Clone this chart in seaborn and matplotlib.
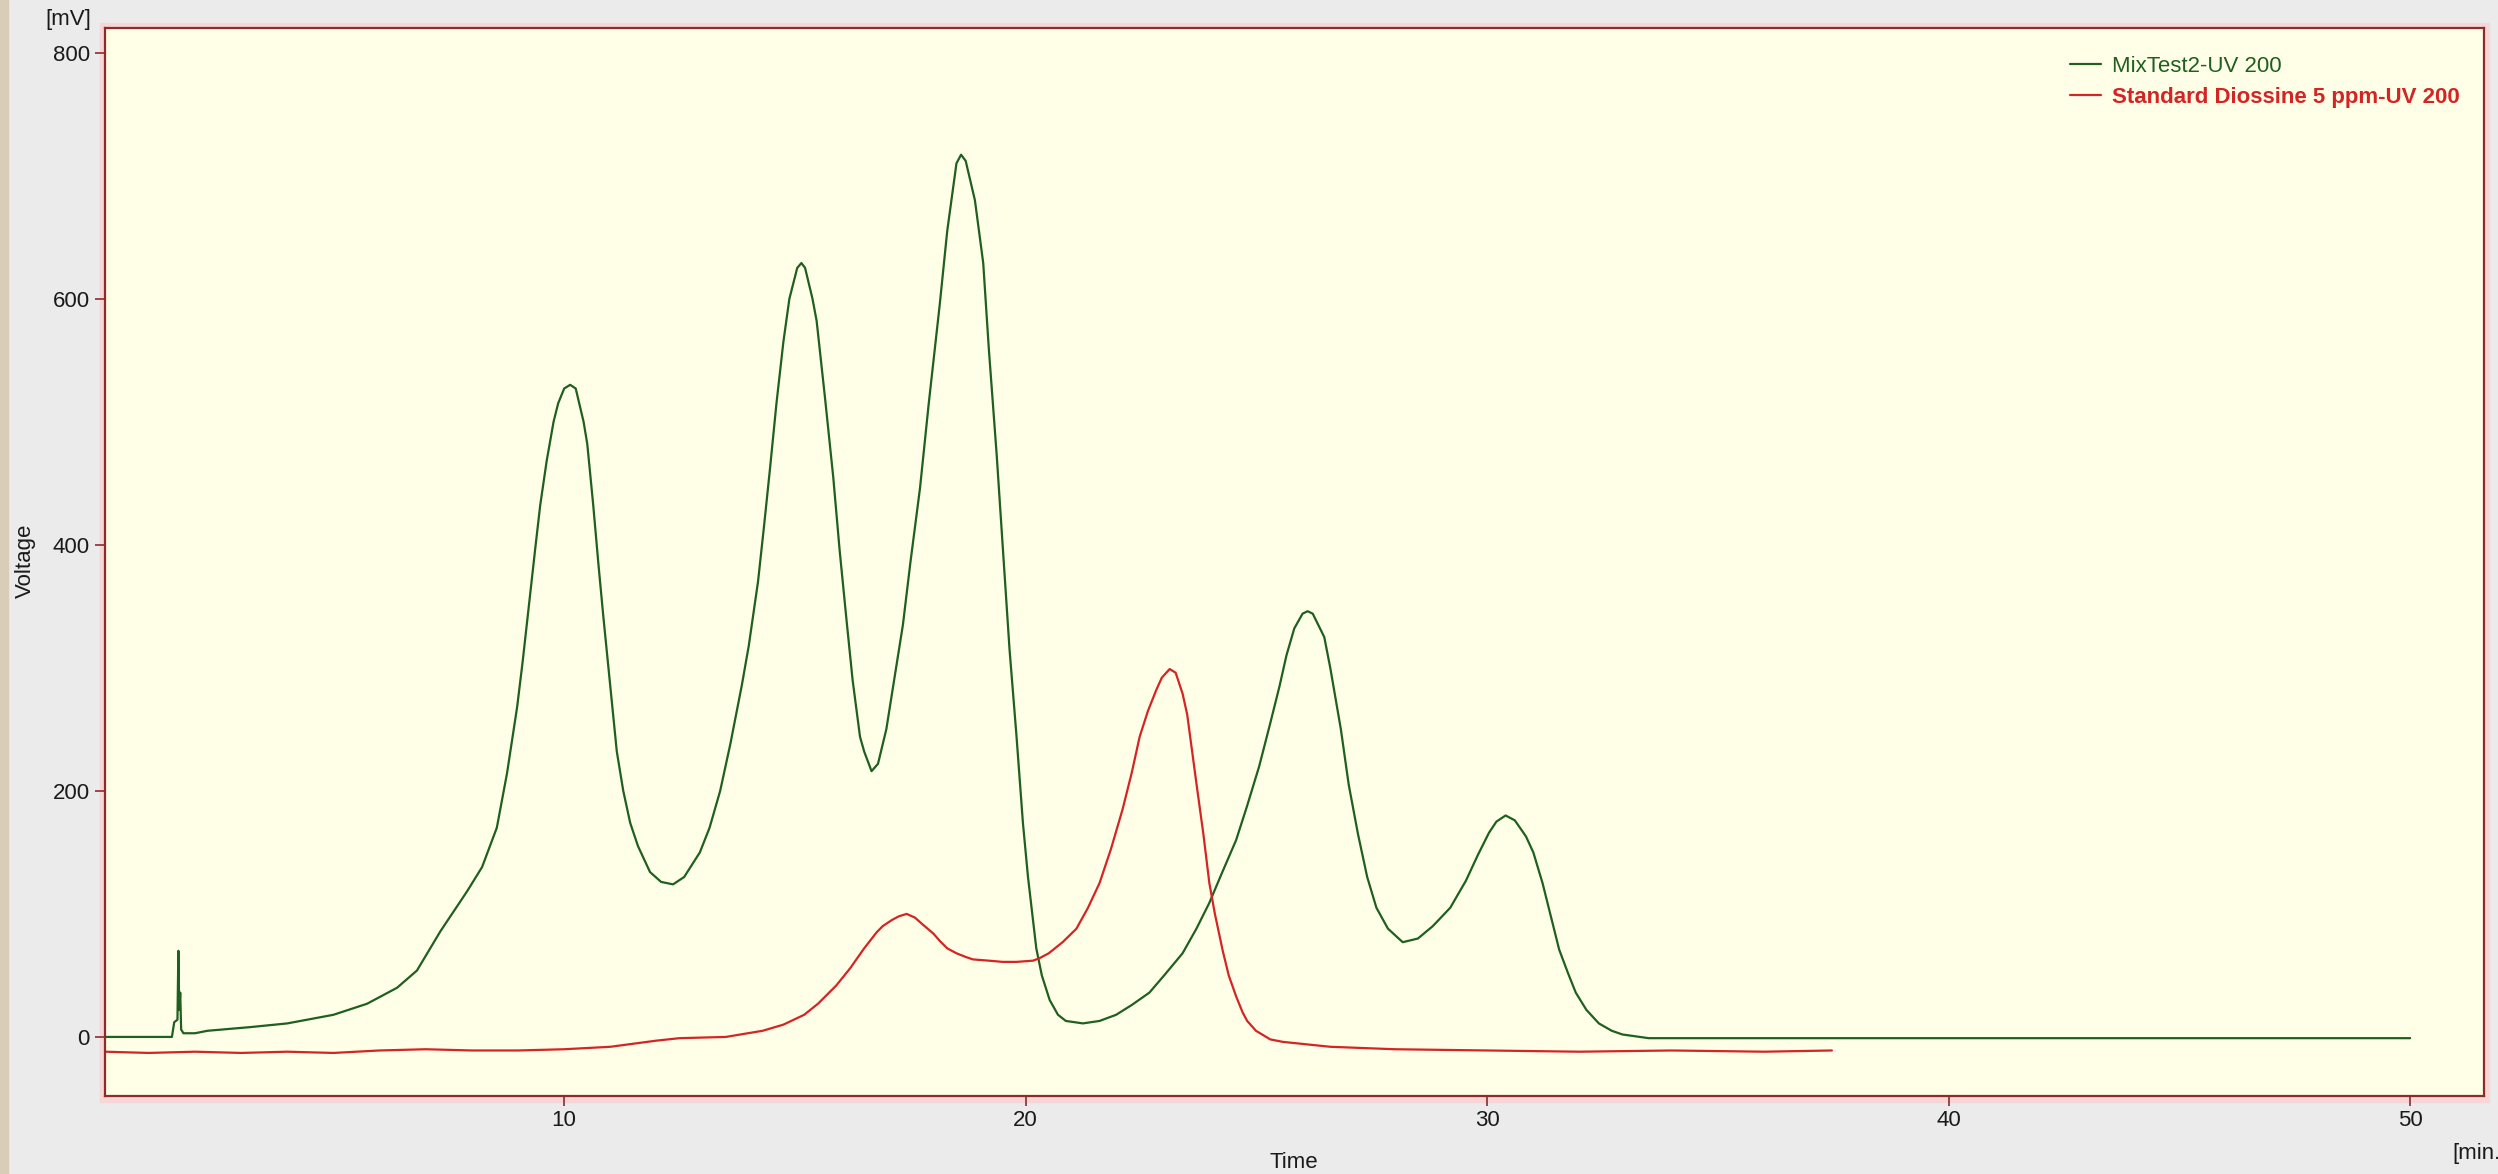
import matplotlib
matplotlib.use("Agg")
import matplotlib.pyplot as plt
from matplotlib.patches import Rectangle
import seaborn as sns
import pandas as pd

# ---------------- data ----------------
mix_time = [0.05, 1.0, 1.5, 1.55, 1.62, 1.64, 1.66, 1.68, 1.70, 1.75, 2.0, 2.27, 3.2, 4.0,
            5.0, 5.73, 6.38, 6.81, 7.32, 7.89, 8.22, 8.54, 8.76, 8.98, 9.1, 9.26, 9.37,
            9.48, 9.62, 9.77, 9.87, 10.0, 10.13, 10.25, 10.42, 10.5, 10.63, 10.74, 10.85,
            11.0, 11.14, 11.28, 11.43, 11.6, 11.86, 12.1, 12.36, 12.6, 12.94, 13.15,
            13.38, 13.6, 13.85, 14.0, 14.2, 14.33, 14.46, 14.6, 14.75, 14.88, 15.05,
            15.14, 15.22, 15.38, 15.47, 15.65, 15.83, 15.97, 16.12, 16.25, 16.41, 16.5,
            16.66, 16.8, 16.98, 17.15, 17.34, 17.5, 17.71, 17.9, 18.14, 18.3, 18.5, 18.6,
            18.7, 18.9, 19.08, 19.2, 19.37, 19.5, 19.65, 19.8, 19.94, 20.05, 20.23, 20.35,
            20.52, 20.7, 20.87, 21.24, 21.6, 21.96, 22.3, 22.68, 23.0, 23.4, 23.7, 23.98,
            24.25, 24.56, 24.8, 25.06, 25.3, 25.5, 25.65, 25.82, 26.0, 26.11, 26.22,
            26.47, 26.6, 26.83, 27.0, 27.2, 27.4, 27.6, 27.85, 28.17, 28.5, 28.82, 29.2,
            29.54, 29.8, 30.04, 30.2, 30.4, 30.6, 30.84, 31.0, 31.2, 31.4, 31.56, 31.75,
            31.92, 32.15, 32.42, 32.7, 32.93, 33.5, 35.0, 40.0, 45.0, 50.0]
mix_mv = [0, 0, 0, 12, 14, 70, 22, 36, 6, 3, 3, 5, 8, 11,
          18, 27, 40, 54, 86, 118, 138, 170, 214, 268, 305, 359, 396,
          432, 468, 500, 515, 527, 530, 527, 500, 482, 432, 385, 341,
          285, 232, 200, 174, 155, 134, 126, 124, 130, 150, 170,
          200, 238, 286, 318, 370, 415, 462, 515, 565, 600, 625,
          629, 625, 600, 582, 520, 455, 395, 338, 290, 244, 232,
          216, 222, 250, 290, 335, 385, 446, 515, 596, 655, 710, 717,
          712, 680, 629, 560, 474, 400, 315, 245, 174, 130, 72, 50,
          30, 18, 13, 11, 13, 18, 26, 36, 50, 68, 88, 109,
          133, 160, 188, 220, 255, 285, 310, 332, 344, 346, 344,
          325, 300, 250, 205, 165, 130, 105, 88, 77, 80, 90, 105,
          127, 148, 166, 175, 180, 176, 163, 150, 125, 95, 71, 52,
          36, 22, 11, 5, 2, -1, -1, -1, -1, -1]

std_time = [0.05, 1.0, 2.0, 3.0, 4.0, 5.0, 6.0, 7.0, 8.0, 9.0, 10.0, 11.0, 12.0, 12.5,
            13.5, 14.3, 14.75, 15.2, 15.5, 15.9, 16.2, 16.35, 16.5, 16.77, 16.9, 17.1,
            17.25, 17.42, 17.6, 17.75, 18.0, 18.14, 18.3, 18.5, 18.7, 18.86, 19.2, 19.5,
            19.8, 20.16, 20.3, 20.5, 20.8, 21.1, 21.35, 21.6, 21.85, 22.1, 22.3, 22.47,
            22.65, 22.83, 22.95, 23.12, 23.25, 23.4, 23.5, 23.7, 23.85, 23.98, 24.1,
            24.27, 24.4, 24.56, 24.7, 24.8, 24.99, 25.3, 25.57, 26.6, 28.0, 30.0, 32.0,
            34.0, 36.0, 37.47]
std_mv = [-12, -13, -12, -13, -12, -13, -11, -10, -11, -11, -10, -8, -3, -1,
          0, 5, 10, 18, 27, 42, 56, 64, 72, 85, 90, 95,
          98, 100, 97, 92, 84, 78, 72, 68, 65, 63, 62, 61,
          61, 62, 64, 68, 77, 88, 105, 125, 153, 185, 215, 244,
          265, 282, 292, 299, 296, 279, 262, 206, 165, 125, 100,
          70, 50, 33, 20, 13, 5, -2, -4, -8, -10, -11, -12,
          -11, -12, -11]

series_names = ["MixTest2-UV 200", "Standard Diossine 5 ppm-UV 200"]
x_ticks = [10, 20, 30, 40, 50]
y_ticks = [0, 200, 400, 600, 800]

# ---------------- style ----------------
sns.set_theme(style="white")
plt.rcParams["font.family"] = ["Liberation Sans", "DejaVu Sans"]

GREEN = "#1f5f1f"
RED = "#d42424"
FRAME = "#8e2a2a"
TXT = "#1a1a1a"

W, H = 2498, 1174
fig = plt.figure(figsize=(W / 100, H / 100), dpi=100, facecolor="#ebebeb")
L, R, T, B = 105, 2484, 28, 1096

# decorative window bits (behind the axes)
fig.patches.append(Rectangle((0, 0), 8 / W, 1, transform=fig.transFigure,
                             color="#d9ccb8", zorder=-10))
fig.patches.append(Rectangle(((L - 5) / W, 1 - (B + 6) / H), (R - L + 10) / W,
                             (B - T + 11) / H, transform=fig.transFigure,
                             color="#f6d6d6", zorder=-10))

ax = fig.add_axes([L / W, 1 - B / H, (R - L) / W, (B - T) / H])
ax.set_zorder(1)
ax.set_facecolor("#ffffe8")

df_mix = pd.DataFrame({"Time": mix_time, "Voltage": mix_mv})
df_std = pd.DataFrame({"Time": std_time, "Voltage": std_mv})

sns.lineplot(data=df_mix, x="Time", y="Voltage", ax=ax, color=GREEN, lw=1.6,
             estimator=None, label=series_names[0])
sns.lineplot(data=df_std, x="Time", y="Voltage", ax=ax, color=RED, lw=1.6,
             estimator=None, label=series_names[1])

ax.set_xlim(0.05, 51.6)
ax.set_ylim(-48, 820)
ax.set_xticks(x_ticks)
ax.set_yticks(y_ticks)
ax.tick_params(axis="both", which="major", bottom=True, left=True, direction="out",
               length=7, width=1.2, color=FRAME, labelsize=16, labelcolor=TXT, pad=3)
ax.tick_params(axis="y", pad=4)
for s in ax.spines.values():
    s.set_color(FRAME)
    s.set_linewidth(1.6)

ax.set_xlabel("")
ax.set_ylabel("")
fig.text(1294 / W, 1 - 1162 / H, "Time", ha="center", va="center", fontsize=16, color=TXT)
fig.text(2452 / W, 1 - 1153 / H, "[min.]", ha="left", va="center", fontsize=16, color=TXT)
fig.text(45 / W, 1 - 20 / H, "[mV]", ha="left", va="center", fontsize=16, color=TXT)
fig.text(25 / W, 1 - 561 / H, "Voltage", ha="center", va="center", rotation=90,
         fontsize=16, color=TXT)

leg = ax.legend(loc="upper right", bbox_to_anchor=(0.99, 0.974), frameon=False,
                fontsize=16, handlelength=1.4, handletextpad=0.5, labelspacing=0.45,
                borderaxespad=0, borderpad=0)
texts = leg.get_texts()
texts[0].set_color(GREEN)
texts[1].set_color(RED)
texts[1].set_fontweight("bold")
for line in leg.get_lines():
    line.set_linewidth(1.6)

fig.savefig("out.png", dpi=100, facecolor=fig.get_facecolor())
